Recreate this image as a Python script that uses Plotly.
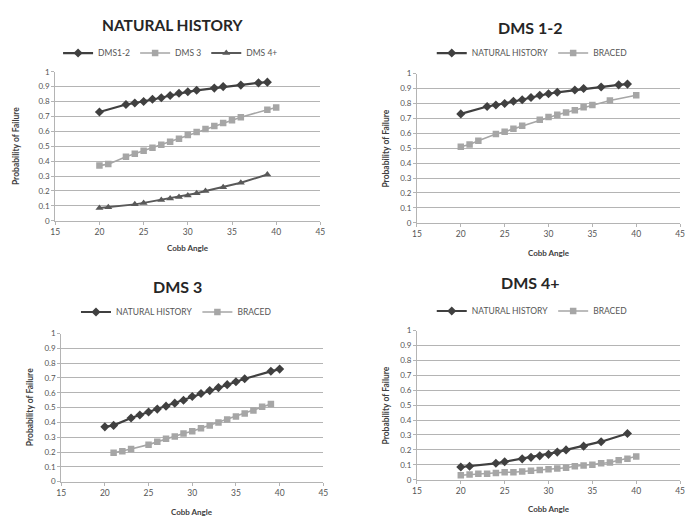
import plotly.graph_objects as go

# ---- Data: probability of failure vs Cobb angle ----
nh_dms12_x = [20, 23, 24, 25, 26, 27, 28, 29, 30, 31, 33, 34, 36, 38, 39]
nh_dms12_y = [0.73, 0.78, 0.79, 0.80, 0.815, 0.825, 0.84, 0.855, 0.865, 0.875, 0.89, 0.90, 0.91, 0.925, 0.93]

nh_dms3_x = [20, 21, 23, 24, 25, 26, 27, 28, 29, 30, 31, 32, 33, 34, 35, 36, 39, 40]
nh_dms3_y = [0.37, 0.38, 0.43, 0.45, 0.47, 0.49, 0.51, 0.53, 0.55, 0.575, 0.595, 0.615, 0.635, 0.655, 0.675, 0.695, 0.745, 0.76]

nh_dms4_x = [20, 21, 24, 25, 27, 28, 29, 30, 31, 32, 34, 36, 39]
nh_dms4_y = [0.085, 0.09, 0.11, 0.12, 0.14, 0.15, 0.16, 0.17, 0.185, 0.20, 0.225, 0.255, 0.31]

braced_dms12_x = [20, 21, 22, 24, 25, 26, 27, 29, 30, 31, 32, 33, 34, 35, 37, 40]
braced_dms12_y = [0.51, 0.525, 0.55, 0.595, 0.61, 0.63, 0.65, 0.69, 0.71, 0.725, 0.74, 0.755, 0.775, 0.79, 0.82, 0.855]

braced_dms3_x = [21, 22, 23, 25, 26, 27, 28, 29, 30, 31, 32, 33, 34, 35, 36, 37, 38, 39]
braced_dms3_y = [0.195, 0.205, 0.22, 0.25, 0.27, 0.29, 0.305, 0.325, 0.34, 0.36, 0.38, 0.40, 0.42, 0.44, 0.46, 0.48, 0.505, 0.525]

braced_dms4_x = [20, 21, 22, 23, 24, 25, 26, 27, 28, 29, 30, 31, 32, 33, 34, 35, 36, 37, 38, 39, 40]
braced_dms4_y = [0.03, 0.035, 0.04, 0.04, 0.045, 0.05, 0.05, 0.055, 0.06, 0.065, 0.07, 0.075, 0.08, 0.09, 0.095, 0.10, 0.11, 0.115, 0.13, 0.14, 0.155]

panel_titles = ["NATURAL HISTORY", "DMS 1-2", "DMS 3", "DMS 4+"]
x_ticks = [15, 20, 25, 30, 35, 40, 45]
y_ticks = [0, 0.1, 0.2, 0.3, 0.4, 0.5, 0.6, 0.7, 0.8, 0.9, 1]
y_tick_text = ["0", "0.1", "0.2", "0.3", "0.4", "0.5", "0.6", "0.7", "0.8", "0.9", "1"]

W, H = 691, 520
FONT = "Lato"
DARK = "#404040"
LIGHT = "#a6a6a6"
MID = "#595959"
GRID = "#b4b4b4"
TXT = "#555555"

# plot-area boxes in pixels: (left, right, top, bottom)
boxes = [
    (51, 320, 68, 220),
    (418, 685, 70, 222),
    (57, 323, 335, 486),
    (418, 685, 332, 484),
]
# title / legend / x-label rows and centres in pixels
title_pos = [(170, 20), (533, 23), (175, 287), (533, 283)]
title_size = [15.5, 16, 16, 16]
legend_pos = [(168, 49), (535, 49), (174, 313), (535, 312)]
xlabel_y = [248, 253, 517, 514]
ylabel_x = [11, 387, 25, 387]


def fx(px):
    return px / W


def fy(py):
    return 1 - py / H


fig = go.Figure()

series = [
    # panel 1
    [(nh_dms12_x, nh_dms12_y, "DMS1-2", DARK, "diamond", 2.2),
     (nh_dms3_x, nh_dms3_y, "DMS 3", LIGHT, "square", 1.6),
     (nh_dms4_x, nh_dms4_y, "DMS 4+", MID, "triangle-up", 2.0)],
    # panel 2
    [(nh_dms12_x, nh_dms12_y, "NATURAL HISTORY", DARK, "diamond", 2.2),
     (braced_dms12_x, braced_dms12_y, "BRACED", LIGHT, "square", 1.6)],
    # panel 3
    [(nh_dms3_x, nh_dms3_y, "NATURAL HISTORY", DARK, "diamond", 2.2),
     (braced_dms3_x, braced_dms3_y, "BRACED", LIGHT, "square", 1.6)],
    # panel 4
    [(nh_dms4_x, nh_dms4_y, "NATURAL HISTORY", DARK, "diamond", 2.2),
     (braced_dms4_x, braced_dms4_y, "BRACED", LIGHT, "square", 1.6)],
]

marker_size = {"diamond": 7, "square": 6.5, "triangle-up": 7}
legend_names = ["legend", "legend2", "legend3", "legend4"]

for i, group in enumerate(series):
    suffix = "" if i == 0 else str(i + 1)
    for xs, ys, name, color, symbol, lw in group:
        fig.add_trace(go.Scatter(
            x=xs, y=ys, name=name, mode="lines+markers",
            line=dict(color=color, width=lw),
            marker=dict(symbol=symbol, size=marker_size[symbol], color=color),
            xaxis="x" + suffix, yaxis="y" + suffix,
            legend=legend_names[i],
        ))

layout = dict(
    width=W, height=H,
    margin=dict(l=0, r=0, t=0, b=0),
    paper_bgcolor="white", plot_bgcolor="white",
    font=dict(family=FONT, color=TXT, size=8),
    annotations=[],
)

for i, (l, r, t, b) in enumerate(boxes):
    suffix = "" if i == 0 else str(i + 1)
    layout["xaxis" + suffix] = dict(
        domain=[fx(l), fx(r)], range=[15, 45], anchor="y" + suffix,
        tickvals=x_ticks, showgrid=False, zeroline=False,
        showline=True, linecolor=GRID, linewidth=1,
        ticks="outside", ticklen=3, tickcolor=GRID,
        tickfont=dict(size=8.5, color=TXT, family=FONT), fixedrange=True,
    )
    layout["yaxis" + suffix] = dict(
        domain=[fy(b), fy(t)], range=[0, 1], anchor="x" + suffix,
        tickvals=y_ticks, ticktext=y_tick_text,
        showgrid=True, gridcolor=GRID, gridwidth=1, zeroline=False,
        showline=True, linecolor=GRID, linewidth=1,
        ticks="outside", ticklen=3, tickcolor=GRID,
        tickfont=dict(size=8, color=TXT, family=FONT), fixedrange=True,
    )
    lx, ly = legend_pos[i]
    layout[legend_names[i]] = dict(
        orientation="h", x=fx(lx), y=fy(ly), xanchor="center", yanchor="middle",
        font=dict(size=8.5, color=TXT, family=FONT), bgcolor="rgba(0,0,0,0)",
        itemwidth=30, tracegroupgap=0,
    )
    tx, ty = title_pos[i]
    layout["annotations"].append(dict(
        text="<b>%s</b>" % panel_titles[i], x=fx(tx), y=fy(ty),
        xref="paper", yref="paper", showarrow=False,
        xanchor="center", yanchor="middle",
        font=dict(size=title_size[i], color="#262626", family=FONT),
    ))
    layout["annotations"].append(dict(
        text="<b>Cobb Angle</b>", x=fx((l + r) / 2), y=fy(xlabel_y[i]),
        xref="paper", yref="paper", showarrow=False,
        xanchor="center", yanchor="middle",
        font=dict(size=8, color="#404040", family=FONT),
    ))
    layout["annotations"].append(dict(
        text="<b>Probability of Failure</b>", x=fx(ylabel_x[i]), y=fy((t + b) / 2),
        xref="paper", yref="paper", showarrow=False, textangle=-90,
        xanchor="center", yanchor="middle",
        font=dict(size=8.5, color="#404040", family=FONT),
    ))

fig.update_layout(**layout)
fig.write_html("out.html")
